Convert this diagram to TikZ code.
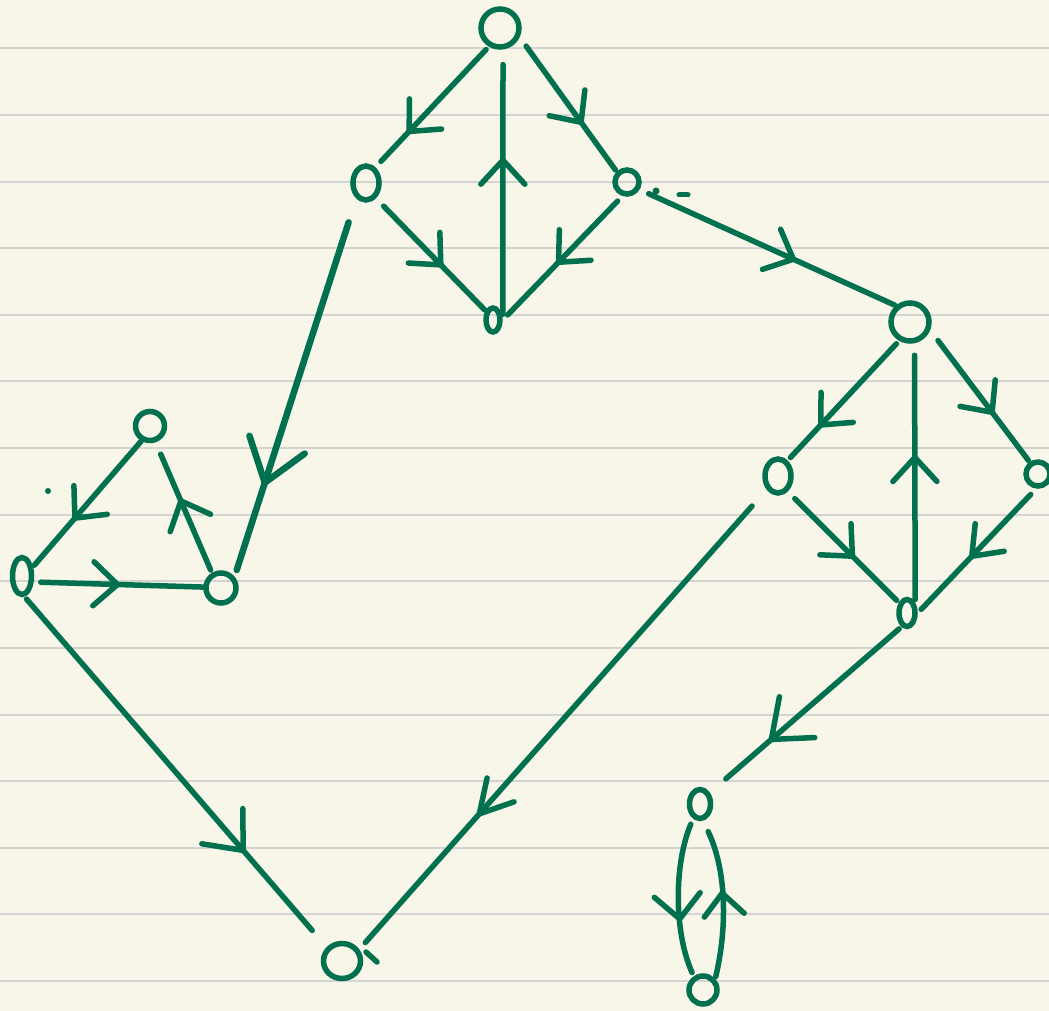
\documentclass[tikz,border=0pt]{standalone}
\usetikzlibrary{arrows.meta,decorations.markings,shapes.geometric}
\definecolor{ink}{HTML}{00704F}
\definecolor{paper}{HTML}{F8F6E8}
\definecolor{rule}{HTML}{D4D4D2}
\tikzset{
  nd/.style={draw=ink, line width=5.5pt, ellipse, inner sep=0pt},
  edge/.style={draw=ink, line width=5.5pt, line cap=round},
  mk/.style args={#1/#2/#3}{postaction={decorate,decoration={markings,
     mark=at position #1 with {\arrow{Straight Barb[round,length=#2,width=#3]}}}}},
  am/.style={mk={#1/24pt/44pt}},
}
\begin{document}
\begin{tikzpicture}[x=1pt,y=-1pt]
\useasboundingbox (0,0) rectangle (1049,1011);
\fill[paper] (0,0) rectangle (1049,1011);
\foreach \yy in {48,115,182,248,315,381,448,515,581,648,715,781,848,914,981}
  \draw[rule, line width=1.5pt] (0,\yy) -- (1049,\yy);

% nodes
\node[nd, minimum width=38pt, minimum height=38pt] (A) at (500,28) {};
\node[nd, minimum width=26pt, minimum height=34pt] (B) at (366,183) {};
\node[nd, minimum width=24pt, minimum height=24pt] (C) at (627,182) {};
\node[nd, minimum width=14pt, minimum height=24pt] (D) at (493,320) {};
\node[nd, minimum width=38pt, minimum height=38pt] (E) at (910,322) {};
\node[nd, minimum width=26pt, minimum height=34pt] (F) at (778,476) {};
\node[nd, minimum width=24pt, minimum height=24pt] (G) at (1038,474) {};
\node[nd, minimum width=16pt, minimum height=27pt] (H) at (907,613) {};
\node[nd, minimum width=29pt, minimum height=29pt] (I) at (150,426) {};
\node[nd, minimum width=19pt, minimum height=37pt] (J) at (22,576) {};
\node[nd, minimum width=30pt, minimum height=30pt] (K) at (221,588) {};
\node[nd, minimum width=37pt, minimum height=35pt] (L) at (342,961) {};
\node[nd, minimum width=21pt, minimum height=29pt] (M) at (700,804) {};
\node[nd, minimum width=28pt, minimum height=28pt] (N) at (703,990) {};

% edges, upper diamond
\draw[edge, am=0.72, shorten <=4pt, shorten >=8pt] (A.-121) -- (B.59);
\draw[edge, am=0.6, shorten <=5pt, shorten >=15pt] (D.4) -- (A.-82);
\draw[edge, am=0.65, shorten <=11pt, shorten >=2pt] (A.-25) -- (C.135);
\draw[edge, am=0.61, shorten <=11pt, shorten >=1pt] (B.-57) -- (D.129);
\draw[edge, am=0.55, shorten <=7pt, shorten >=7pt] (C.-108) -- (D.0);
\draw[edge, am=0.61, shorten <=10pt, shorten >=1pt] (C.-31) -- (E.131);

% right diamond
\draw[edge, am=0.72, shorten <=4pt, shorten >=4pt] (E.-120) -- (F.58);
\draw[edge, am=0.57, shorten <=3pt, shorten >=12pt] (H.52) -- (E.-78);
\draw[edge, am=0.64, shorten <=13pt, shorten >=2pt] (E.-22) -- (G.125);
\draw[edge, am=0.6, shorten <=10pt, shorten >=3pt] (F.-58) -- (H.128);
\draw[edge, mk={0.56/26pt/40pt}, shorten <=8pt, shorten >=5pt] (G.-97) -- (H.0);
\draw[edge, mk={0.69/34pt/54pt}, shorten <=3pt, shorten >=21pt] (H.-112) -- (M.49);
\draw[edge, mk={0.71/32pt/36pt}, shorten <=22pt, shorten >=9pt] (F.-130) -- (L.34);

% left triangle
\draw[edge, am=0.63, shorten >=2pt] (I.-120) -- (J.40);
\draw[edge, am=0.57, shorten <=3pt, shorten >=13pt] (K.121) -- (I.-71);
\draw[edge, am=0.51, shorten <=7pt] (J.-27) -- (K.177);
\draw[edge, mk={0.73/32pt/54pt}, shorten <=3pt, shorten >=22pt] (J.-83) -- (L.138);
\draw[edge, line width=6.5pt, mk={0.76/40pt/58pt}, shorten <=25pt, shorten >=7pt] (B.-122) -- (K.40);

% bottom pair
\draw[edge, mk={0.65/24pt/46pt}, shorten <=6pt, shorten >=4pt]
  (M.-115) .. controls +(-19,45) and +(-20,-45) .. (N.124);
\draw[edge, mk={0.55/22pt/40pt}, shorten <=2pt, shorten >=12pt]
  (N.43) .. controls +(12,-50) and +(24,50) .. (M.-80);

% stray pen marks
\fill[ink] (48,491) circle (3pt);
\fill[ink] (656,191) circle (3.5pt);
\draw[edge, line width=5pt] (679,195) -- (688,195);
\draw[edge] (366,952) -- (377,962);
\end{tikzpicture}
\end{document}
